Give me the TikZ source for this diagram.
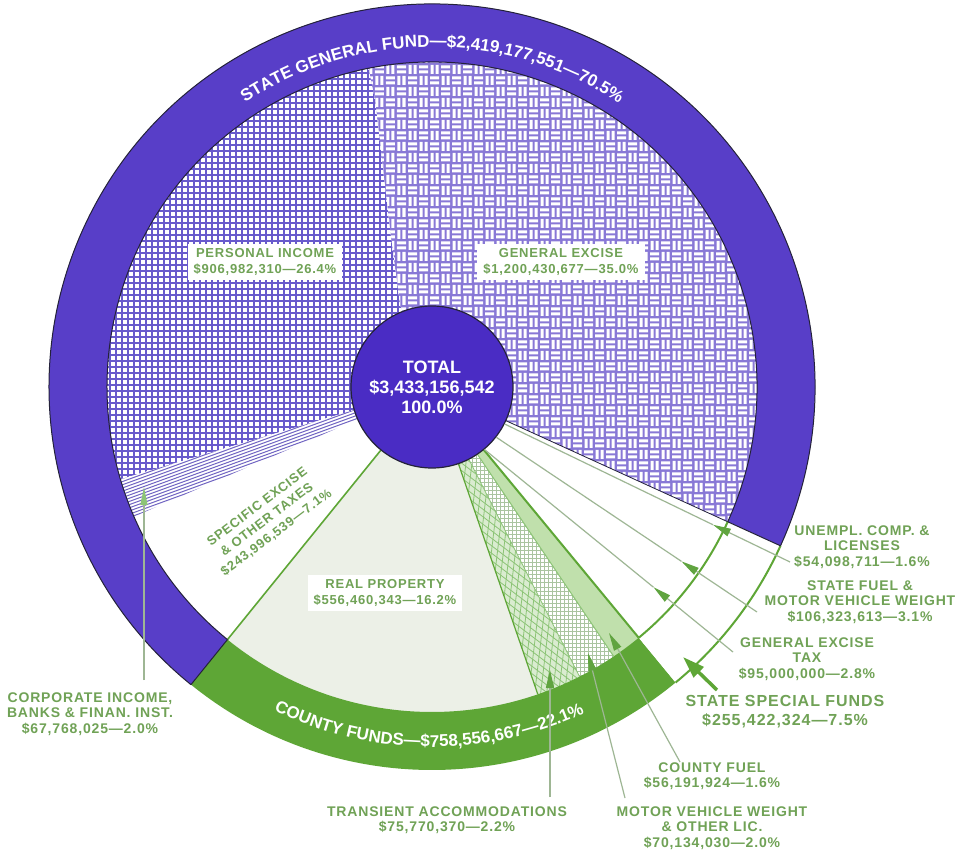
\documentclass[tikz,border=0pt]{standalone}
\usepackage{fontspec}
\setmainfont{Liberation Sans}
\newfontfamily\labfont[LetterSpace=6]{Liberation Sans}
\newfontfamily\ringfam{Liberation Sans}
\usetikzlibrary{decorations.text,arrows.meta,calc}
\definecolor{ringpurple}{RGB}{88,62,200}
\definecolor{cpurple}{RGB}{74,44,196}
\definecolor{gridpurple}{RGB}{104,90,204}
\definecolor{hatchpurple}{RGB}{112,100,194}
\definecolor{weavebg}{RGB}{136,120,214}
\definecolor{ringgreen}{RGB}{94,166,54}
\definecolor{labgreen}{RGB}{112,162,86}
\definecolor{rpfill}{RGB}{236,240,231}
\definecolor{tafill}{RGB}{218,236,208}
\definecolor{taline}{RGB}{140,196,118}
\definecolor{mvline}{RGB}{170,196,160}
\definecolor{cffill}{RGB}{192,224,172}
\definecolor{leadcol}{RGB}{158,182,148}
\definecolor{arrowgreen}{RGB}{96,164,64}
\definecolor{edgecol}{RGB}{36,34,58}
\tikzset{
  lbl/.style={text=labgreen, align=center, font=\labfont\bfseries\fontsize{14}{15.6}\selectfont, inner sep=0pt},
  inlbl/.style={text=labgreen, align=center, font=\labfont\bfseries\fontsize{13}{16}\selectfont, fill=white, inner xsep=6pt, inner ysep=4pt},
  leader/.style={draw=leadcol, line width=1.2pt},
  tiparrow/.style={-{Triangle[length=18pt,width=8pt,color=arrowgreen]}},
}
\begin{document}
\begin{tikzpicture}[x=1pt,y=1pt]
\useasboundingbox (-432,-466) rectangle (534,387);
\fill[white] (-432,-466) rectangle (534,387);
\def\aGE{-24.5}\def\aPI{101.3}\def\aCI{196.5}\def\aSE{203.5}\def\aRP{231}
\def\aTA{289}\def\aMV{297}\def\aCF{304}\def\aSS{309.5}
\def\Rs{332}\def\Ri{325}\def\Ro{383}
% general excise weave
\begin{scope}
\clip (0,0) -- (\aGE:\Rs) arc[start angle=\aGE, end angle=\aPI, radius=\Rs] -- (-57,287) -- (-42,157) -- (-32,82) -- cycle;
\fill[weavebg] (-80,-150) rectangle (340,340);
\foreach \x in {-80,-58,...,340}{
 \foreach \y in {-150,-128,...,340}{
  \fill[white] (\x+1,\y+1.5) rectangle (\x+10,\y+4.5)
               (\x+1,\y+6.5) rectangle (\x+10,\y+9.5)
               (\x+12,\y+12.5) rectangle (\x+21,\y+15.5)
               (\x+12,\y+17.5) rectangle (\x+21,\y+20.5)
               (\x+12.5,\y+1) rectangle (\x+15.5,\y+10)
               (\x+17.5,\y+1) rectangle (\x+20.5,\y+10)
               (\x+1.5,\y+12) rectangle (\x+4.5,\y+21)
               (\x+6.5,\y+12) rectangle (\x+9.5,\y+21);
 }}
\end{scope}
% personal income grid
\begin{scope}
\clip (0,0) -- (-32,82) -- (-42,157) -- (-57,287) -- (\aPI:\Rs) arc[start angle=\aPI, end angle=\aCI, radius=\Rs] -- cycle;
\fill[white] (-340,-100) rectangle (0,340);
\foreach \x in {-340,-334,...,0} \draw[gridpurple, line width=1.2pt] (\x,-100) -- (\x,340);
\foreach \y in {-100,-94,...,340} \draw[gridpurple, line width=1.2pt] (-340,\y) -- (0,\y);
\end{scope}
% corporate income hatch
\begin{scope}
\clip (0,0) -- (\aCI:\Rs) arc[start angle=\aCI, end angle=\aSE, radius=\Rs] -- cycle;
\fill[white] (-340,-140) rectangle (0,0);
\begin{scope}[rotate=20]
\foreach \y in {-40,-37,...,40} \draw[hatchpurple, line width=1pt] (-360,\y) -- (0,\y);
\end{scope}
\end{scope}
% real property
\fill[rpfill] (0,0) -- (\aRP:\Rs) arc[start angle=\aRP, end angle=\aTA, radius=\Rs] -- cycle;
% transient accommodations
\begin{scope}
\clip (0,0) -- (\aTA:\Rs) arc[start angle=\aTA, end angle=\aMV, radius=\Rs] -- cycle;
\fill[tafill] (0,-340) rectangle (200,0);
\begin{scope}[rotate=23]
\foreach \c in {-420,-408,...,60} {
  \draw[taline, line width=0.8pt] (-40,\c) -- (40,\c+140);
  \draw[taline, line width=0.8pt] (-40,\c+140) -- (40,\c);
}
\end{scope}
\end{scope}
% motor vehicle weight
\begin{scope}
\clip (0,0) -- (\aMV:\Rs) arc[start angle=\aMV, end angle=\aCF, radius=\Rs] -- cycle;
\fill[white] (0,-340) rectangle (220,0);
\foreach \x in {0,4,...,220} \draw[mvline, line width=1pt] (\x,-340) -- (\x,0);
\foreach \y in {-340,-336,...,0} \draw[mvline, line width=1pt] (0,\y) -- (220,\y);
\end{scope}
% county fuel
\fill[cffill] (0,0) -- (\aCF:\Rs) arc[start angle=\aCF, end angle=\aSS, radius=\Rs] -- cycle;
% slice boundaries
\draw[ringgreen, line width=1.6pt] (0,0) -- (\aRP:\Ri);
\draw[ringgreen, line width=1.2pt] (0,0) -- (\aTA:\Ri);
\draw[taline, line width=0.8pt] (0,0) -- (\aMV:\Ri);
\draw[taline, line width=1pt] (0,0) -- (\aCF:\Ri);
\draw[ringgreen, line width=2pt] (0,0) -- (\aSS:\Ri);
\draw[edgecol, line width=0.8pt] (0,0) -- (\aGE:\Ri);
% ring
\fill[ringpurple] (\aGE:\Ri) arc[start angle=\aGE, end angle=\aRP, radius=\Ri] -- (\aRP:\Ro) arc[start angle=\aRP, end angle=\aGE, radius=\Ro] -- cycle;
\fill[ringgreen] (\aRP:\Ri) arc[start angle=\aRP, end angle=\aSS, radius=\Ri] -- (\aSS:\Ro) arc[start angle=\aSS, end angle=\aRP, radius=\Ro] -- cycle;
\fill[white] (\aSS:\Ri) arc[start angle=\aSS, end angle=335.5, radius=\Ri] -- (335.5:\Ro) arc[start angle=335.5, end angle=\aSS, radius=\Ro] -- cycle;
\draw[ringgreen, line width=2pt] (\aSS:\Ri) arc[start angle=\aSS, end angle=335.5, radius=\Ri];
\draw[ringgreen, line width=2pt] (\aSS:\Ro) arc[start angle=\aSS, end angle=335.5, radius=\Ro];
\draw[edgecol, line width=1pt] (\aGE:\Ro) arc[start angle=\aGE, end angle=\aRP, radius=\Ro];
\draw[edgecol, line width=1pt] (\aGE:\Ri) arc[start angle=\aGE, end angle=\aRP, radius=\Ri];
\draw[edgecol, line width=1pt] (\aGE:\Ri) -- (\aGE:\Ro) (\aRP:\Ri) -- (\aRP:\Ro);
% ring texts
\path[decorate, decoration={text along path, text color=white, text align=center,
  text={|\ringfam\bfseries\fontsize{17}{20}\selectfont|STATE GENERAL FUND—{\$}2,419,177,551—70.5{\%}}}]
  (128:340) arc[start angle=128, end angle=52, radius=340];
\path[decorate, decoration={text along path, text color=white, text align=center,
  text={|\ringfam\bfseries\fontsize{17}{20}\selectfont|COUNTY FUNDS—{\$}758,556,667—22.1{\%}}}]
  (240:360) arc[start angle=240, end angle=299, radius=360];
% centre
\node[circle, fill=cpurple, draw=edgecol, line width=1.2pt, minimum size=162pt, inner sep=0pt,
  text=white, align=center, font=\ringfam\bfseries\fontsize{18}{20}\selectfont] (total) at (0,0)
  {TOTAL\\\$3,433,156,542\\100.0\%};
% inner labels
\node[inlbl] (pi) at (-167,125) {PERSONAL INCOME\\\$906,982,310—26.4\%};
\node[inlbl] (ge) at (129,125) {GENERAL EXCISE\\\$1,200,430,677—35.0\%};
\node[inlbl] (rp) at (-47,-206) {REAL PROPERTY\\\$556,460,343—16.2\%};
\node[inlbl, fill=none, rotate=37] (se) at (-165,-133) {SPECIFIC EXCISE\\\& OTHER TAXES\\\$243,996,539—7.1\%};
% outer labels
\node[lbl] (unempl) at (430,-160) {UNEMPL. COMP. \&\\LICENSES\\\$54,098,711—1.6\%};
\node[lbl] (sfuel) at (428,-215) {STATE FUEL \&\\MOTOR VEHICLE WEIGHT\\\$106,323,613—3.1\%};
\node[lbl] (getax) at (375,-272) {GENERAL EXCISE\\TAX\\\$95,000,000—2.8\%};
\node[lbl, font=\labfont\bfseries\fontsize{16}{19}\selectfont] (ssf) at (353,-325) {STATE SPECIAL FUNDS\\\$255,422,324—7.5\%};
\node[lbl] (cfuel) at (280,-389) {COUNTY FUEL\\\$56,191,924—1.6\%};
\node[lbl] (mvw) at (280,-441) {MOTOR VEHICLE WEIGHT\\\& OTHER LIC.\\\$70,134,030—2.0\%};
\node[lbl] (trans) at (15,-433) {TRANSIENT ACCOMMODATIONS\\\$75,770,370—2.2\%};
\node[lbl] (corp) at (-342,-327) {CORPORATE INCOME,\\BANKS \& FINAN. INST.\\\$67,768,025—2.0\%};
% leaders to the right labels
\coordinate (uE) at (358,-175);
\coordinate (sE) at (325,-225);
\coordinate (gE) at (301,-265);
\coordinate (uA) at ($(total.333)!0.73!(uE)$);
\coordinate (sA) at ($(total.322)!0.71!(sE)$);
\coordinate (gA) at ($(total.310)!0.68!(gE)$);
\draw[leader, tiparrow] (uE) -- (uA);
\draw[leader] (uA) -- (total.333);
\draw[leader, tiparrow] (sE) -- (sA);
\draw[leader] (sA) -- (total.322);
\draw[leader, tiparrow] (gE) -- (gA);
\draw[leader] (gA) -- (total.310);
% state special funds arrow
\coordinate (ssE) at (285,-303);
\coordinate (ssT) at (251,-270);
\draw[ringgreen, line width=3.5pt, -{Triangle[length=22pt,width=14pt]}] (ssE) -- (ssT);
% county leaders
\coordinate (tE) at (118,-410);
\coordinate (tT) at (118,-283);
\coordinate (mE) at (193,-411);
\coordinate (mT) at (156,-266);
\coordinate (cE) at (248,-375);
\coordinate (cT) at (177,-246);
\draw[leader, tiparrow] (tE) -- (tT);
\draw[leader, tiparrow] (mE) -- (mT);
\draw[leader, tiparrow] (cE) -- (cT);
% corporate income leader
\coordinate (ciE) at (-288,-293);
\coordinate (ciT) at (-288,-100);
\draw[leader, -{Triangle[length=18pt,width=7pt,color=taline]}] (ciE) -- (ciT);
\end{tikzpicture}
\end{document}
